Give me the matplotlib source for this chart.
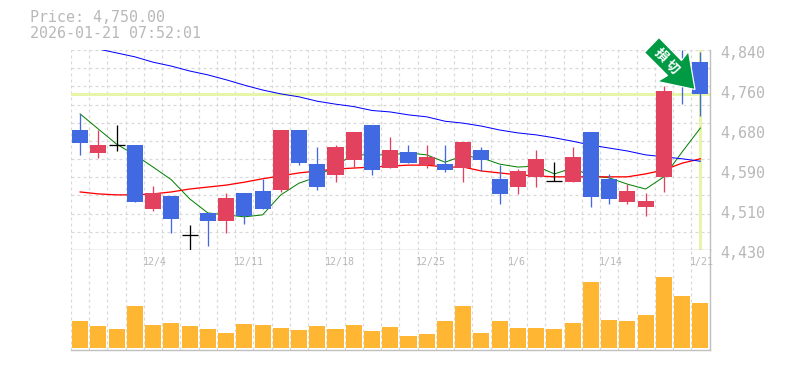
import numpy as np
import matplotlib
matplotlib.use("Agg")
import matplotlib.pyplot as plt
from matplotlib.patches import Polygon
from matplotlib.transforms import IdentityTransform

# daily candles, oldest first
opens = [4676, 4629, 4645, 4645, 4514, 4541, 4460, 4506, 4489, 4547, 4551, 4553, 4676, 4606, 4584, 4615, 4686, 4598,
         4631, 4604, 4606, 4598, 4635, 4576, 4559, 4580, 4571, 4569, 4672, 4576, 4528, 4518, 4580, 4815, 4815]
closes = [4649, 4645, 4645, 4528, 4547, 4494, 4460, 4489, 4537, 4500, 4514, 4676, 4608, 4559, 4641, 4672, 4594, 4635,
          4608, 4621, 4594, 4651, 4615, 4545, 4592, 4617, 4571, 4621, 4539, 4535, 4551, 4530, 4756, 4768, 4750]
highs = [4709, 4676, 4686, 4645, 4561, 4541, 4481, 4506, 4547, 4547, 4576, 4676, 4676, 4641, 4645, 4672, 4686, 4662,
         4645, 4645, 4645, 4651, 4641, 4604, 4596, 4635, 4610, 4641, 4672, 4586, 4565, 4547, 4766, 4840, 4836]
lows = [4625, 4619, 4633, 4528, 4510, 4465, 4430, 4438, 4465, 4483, 4514, 4549, 4604, 4553, 4569, 4598, 4584, 4598,
        4608, 4598, 4590, 4569, 4592, 4524, 4545, 4559, 4571, 4569, 4518, 4524, 4524, 4500, 4549, 4729, 4705]

ma_short = [4709, 4678, 4647, 4625, 4600, 4574, 4535, 4506, 4502, 4498, 4502, 4543, 4567, 4580, 4604, 4625, 4625, 4625,
            4629, 4625, 4610, 4623, 4619, 4606, 4600, 4602, 4586, 4598, 4582, 4578, 4565, 4555, 4580, 4631, 4680]
ma_mid = [4549, 4545, 4543, 4543, 4545, 4549, 4555, 4559, 4563, 4569, 4576, 4582, 4588, 4592, 4596, 4598, 4600, 4602,
          4604, 4604, 4600, 4600, 4592, 4588, 4584, 4582, 4580, 4580, 4580, 4580, 4580, 4586, 4594, 4608, 4617]
ma_long = [np.nan, 4842, 4834, 4826, 4815, 4807, 4797, 4789, 4779, 4768, 4758, 4750, 4744, 4735, 4729, 4724, 4716, 4713,
           4707, 4703, 4694, 4690, 4684, 4676, 4670, 4666, 4660, 4653, 4645, 4639, 4633, 4625, 4621, 4617, 4612]

volumes = [27, 22, 19, 42, 23, 25, 22, 19, 15, 24, 23, 20, 18, 22, 19, 23, 17, 21,
           12, 14, 27, 42, 15, 27, 20, 20, 19, 25, 66, 28, 27, 33, 71, 52, 45]

date_idx = [4, 9, 14, 19, 24, 29, 34]
date_labels = ["12/4", "12/11", "12/18", "12/25", "1/6", "1/14", "1/21"]
price_ticks = [4430, 4512, 4594, 4676, 4758, 4840]
price_labels = ["4,430", "4,510", "4,590", "4,680", "4,760", "4,840"]
last_price = 4750

W, H = 785, 370
RED = "#e3425f"
BLUE = "#4169e1"
ORANGE = "#ffb733"
GRID = "#d8d8d8"
AXIS = "#c0c0c0"
TEXT = "#b8b8b8"
YELLOW = "#e6f5a8"
PX = 0.72  # one pixel in points
MONO = "DejaVu Sans Mono"

fig = plt.figure(figsize=(W / 100, H / 100), dpi=100)
ax = fig.add_axes([71 / W, 1 - 250 / H, 638.5 / W, 200 / H])
vol = fig.add_axes([71 / W, 1 - 350 / H, 638.5 / W, 100 / H])

x = np.arange(len(opens))
boundaries = np.arange(len(opens) + 1) - 0.5

for a in (ax, vol):
    a.set_xlim(-0.5, 34.5)
    a.set_xticks(boundaries)
    a.tick_params(length=0, labelbottom=False, labelleft=False)
    a.grid(True, color=GRID, linewidth=1.2 * PX, linestyle=(0, (2.5, 2.5)))
    a.set_axisbelow(True)
    a.spines["left"].set_visible(False)
    a.spines["top"].set_visible(False)
    a.spines["right"].set_color(AXIS)
    a.spines["bottom"].set_color(AXIS)
    a.spines["right"].set_linewidth(1.4 * PX)
    a.spines["bottom"].set_linewidth(1.4 * PX)

ax.set_ylim(4430, 4840)
ax.set_yticks(np.linspace(4430, 4840, 12))
vol.set_ylim(-2, 98)
vol.set_yticks([])

# marker lines for the latest price and date
ax.axhline(last_price, color=YELLOW, linewidth=3 * PX, zorder=1)
ax.axvline(x[-1], color=YELLOW, linewidth=3 * PX, zorder=1)

# moving averages sit under the candles
ax.plot(x, ma_short, color="#008000", linewidth=1.0 * PX, zorder=2)
ax.plot(x, ma_mid, color="#ff0000", linewidth=1.3 * PX, zorder=2)
ax.plot(x, ma_long, color="#0000ff", linewidth=1.0 * PX, zorder=2)

for i in x:
    if opens[i] == closes[i]:
        color = "black"
    elif closes[i] > opens[i]:
        color = RED
    else:
        color = BLUE
    ax.vlines(i, lows[i], highs[i], color=color, linewidth=1.3 * PX, zorder=3)
    if color == "black":
        ax.hlines(opens[i], i - 0.44, i + 0.44, color=color, linewidth=1.3 * PX, zorder=3)
    else:
        ax.bar(i, abs(closes[i] - opens[i]), bottom=min(opens[i], closes[i]), width=0.88,
               color=color, linewidth=0, zorder=3)

vol.bar(x, volumes, width=0.88, color=ORANGE, linewidth=0, zorder=3)

# price labels sit a little under their level
for p, label in zip(price_ticks, price_labels):
    ax.annotate(label, xy=(1, (p - 4430) / 410), xycoords="axes fraction", xytext=(11 * PX, -3.5 * PX),
                textcoords="offset points", family=MONO, fontsize=10.8, color=TEXT, va="center", ha="left",
                annotation_clip=False)

for i, label in zip(date_idx, date_labels):
    vol.annotate(label, xy=(i - 0.5, 86), xycoords="data", xytext=(-1.5 * PX, 0), textcoords="offset points",
                 family=MONO, fontsize=7.2, color=TEXT, va="center", ha="left", annotation_clip=False, zorder=5)

fig.text(30 / W, 1 - 18 / H, "Price: 4,750.00", family=MONO, fontsize=10.8, color=TEXT, va="center")
fig.text(30 / W, 1 - 33 / H, "2026-01-21 07:52:01", family=MONO, fontsize=10.8, color=TEXT, va="center")

# green call-out arrow, placed in pixels
arrow_px = [(659, 37.5), (644.5, 52.5), (667.5, 75.5), (657.5, 81.5), (695, 89.5), (688.5, 51.5), (681.5, 60.5)]
arrow_xy = [(px, H - py) for px, py in arrow_px]
fig.add_artist(Polygon(arrow_xy, closed=True, facecolor="#009a44", edgecolor="white", linewidth=1.2 * PX,
                       transform=IdentityTransform(), zorder=10))
fig.text(660.5 / W, 1 - 55 / H, "損", family=["Noto Sans CJK JP", "DejaVu Sans"], fontsize=9.5, fontweight="bold",
         color="white", rotation=-45, ha="center", va="center", zorder=11)
fig.text(672.5 / W, 1 - 67 / H, "切", family=["Noto Sans CJK JP", "DejaVu Sans"], fontsize=9.5, fontweight="bold",
         color="white", rotation=-45, ha="center", va="center", zorder=11)

fig.savefig("out.png", dpi=100)
